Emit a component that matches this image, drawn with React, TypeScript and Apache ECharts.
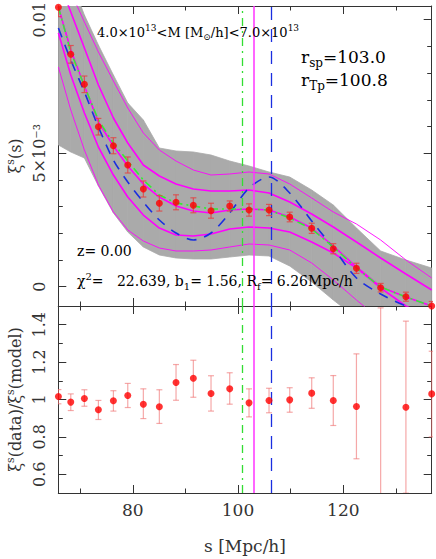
import React, { useEffect, useRef } from "react";
import * as echarts from "echarts";

// separation bins s [Mpc/h]
const sBins = [65.87, 68.22, 70.81, 73.47, 76.32, 79.05, 82.01, 85.05, 88.22, 91.51, 94.87, 98.42, 102.09, 105.89, 109.82, 114.0, 118.1, 122.5, 127.1, 131.9, 136.8];
// top panel values in units of 1e-3
const xiData = [10.464, 8.703, 7.58, 5.992, 5.28, 4.558, 3.659, 3.123, 3.161, 3.048, 2.846, 3.022, 2.872, 2.872, 2.61, 2.187, 1.423, 0.689, -0.037, -0.375, -0.723];
const xiErr = [0.35, 0.33, 0.31, 0.31, 0.3, 0.3, 0.3, 0.29, 0.28, 0.28, 0.28, 0.19, 0.23, 0.21, 0.18, 0.19, 0.19, 0.19, 0.16, 0.17, 0.17];
const modelCentre = [10.475, 8.864, 7.516, 6.168, 5.269, 4.52, 3.846, 3.359, 3.022, 2.835, 2.76, 2.872, 2.91, 2.872, 2.61, 2.198, 1.524, 0.738, -0.011, -0.386, -0.723];
const modelUp1 = [11.523, 10.288, 8.939, 7.554, 6.318, 5.382, 4.558, 4.146, 3.846, 3.659, 3.584, 3.584, 3.621, 3.509, 3.172, 2.723, 2.236, 1.674, 1.075, 0.476, -0.124];
const modelUp2 = [12.235, 11.037, 9.913, 8.79, 7.703, 6.692, 5.756, 5.119, 4.707, 4.37, 4.183, 4.221, 4.296, 4.221, 3.846, 3.322, 2.798, 2.348, 1.749, 1.0, 0.326];
const modelLow1 = [9.501, 7.928, 6.505, 5.232, 4.183, 3.359, 2.685, 2.198, 1.936, 1.899, 1.974, 2.161, 2.236, 2.198, 2.049, 1.674, 1.262, 0.7, -0.049, -0.723, -1.172];
const modelLow2 = [8.228, 6.617, 5.119, 3.809, 2.798, 2.123, 1.711, 1.449, 1.337, 1.337, 1.374, 1.487, 1.599, 1.562, 1.374, 0.888, 0.251, -0.498, -1.247, -1.809, -2.183];
const mockUpper = [12.984, 11.486, 10.175, 9.052, 7.928, 6.88, 6.243, 5.194, 5.082, 5.045, 4.932, 4.707, 4.52, 4.296, 4.108, 3.621, 3.06, 2.198, 1.337, 1.0, 0.7];
const mockLower = [5.307, 5.045, 4.82, 3.771, 2.76, 2.049, 1.487, 1.187, 1.075, 1.037, 1.037, 1.112, 1.187, 1.15, 0.775, 0.176, -0.498, -1.172, -1.622, -1.996, -2.183];
const fitModel = [10.475, 8.79, 7.516, 6.243, 5.382, 4.707, 3.996, 3.434, 3.134, 3.022, 2.91, 2.91, 2.91, 2.872, 2.573, 2.161, 1.487, 0.7, -0.011, -0.386, -0.723];
const linearModel = [9.688, 8.49, 7.292, 5.981, 4.745, 3.921, 3.172, 2.498, 2.011, 1.749, 2.011, 2.76, 3.696, 4.108, 3.509, 2.46, 1.449, 0.326, -0.273, -0.723, -1.097];
// bottom panel
const ratio = [1.016, 0.986, 1.005, 0.945, 0.993, 1.021, 0.975, 0.961, 1.091, 1.114, 1.032, 1.057, 0.982, 0.995, 0.998, 1.034, 0.995, 0.963, 0.3, 0.959, 1.03];
const ratioLow = [0.977, 0.941, 0.964, 0.893, 0.938, 0.957, 0.898, 0.872, 0.996, 1.012, 0.938, 0.975, 0.907, 0.929, 0.932, 0.953, 0.861, 0.683, -0.9, 0.499, 0.8];
const ratioHigh = [1.053, 1.03, 1.052, 0.995, 1.047, 1.086, 1.057, 1.052, 1.187, 1.21, 1.127, 1.143, 1.057, 1.06, 1.063, 1.116, 1.128, 1.244, 1.49, 1.419, 1.258];
// vertical markers
const rSp = 103.0;
const rTp = 100.8;
const rPeak = 106.4;
// ticks
const xMajor = [80, 100, 120];
const xMinor = [70, 90, 110, 130];
const yTopMajor = [0, 5, 10];
const yTopMinor = [1, 2, 3, 4, 6, 7, 8, 9];
const yBotMajor = [0.6, 0.8, 1.0, 1.2, 1.4];
const yBotMinor = [0.7, 0.9, 1.1, 1.3];

const FONT = "DejaVu Serif";
const AX = "#333";
const TXT = "#333";

export default function App() {
  const ref = useRef<HTMLDivElement>(null);
  useEffect(() => {
    document.body.style.margin = "0";
    const chart = echarts.init(ref.current!, null, { renderer: "svg" });
    const pair = (ys: number[]) => sBins.map((s, i) => [s, ys[i]]);
    const X_MIN = 65.85, X_MAX = 136.8;

    const xAxesFor = (gridIndex: number, labels: boolean) => {
      const base = {
        gridIndex, type: "value", min: X_MIN, max: X_MAX,
        splitLine: { show: false },
      };
      const tick = (vals: number[], len: number) => ({ show: true, inside: true, length: len, customValues: vals, lineStyle: { color: AX, width: 1 } });
      return [
        {
          ...base, position: "bottom",
          axisLine: { show: true, onZero: false, lineStyle: { color: AX, width: 1 } },
          axisTick: tick(xMajor, 8),
          axisLabel: { show: labels, customValues: xMajor, margin: 8, fontFamily: FONT, fontSize: 17, color: TXT },
          name: labels ? "s [Mpc/h]" : "", nameLocation: "middle", nameGap: 44,
          nameTextStyle: { fontFamily: FONT, fontSize: 17, color: TXT },
        },
        { ...base, position: "bottom", axisLine: { show: false, onZero: false }, axisTick: tick(xMinor, 4.5), axisLabel: { show: false } },
        { ...base, position: "top", axisLine: { show: true, onZero: false, lineStyle: { color: AX, width: 1 } }, axisTick: tick(xMajor, 8), axisLabel: { show: false } },
        { ...base, position: "top", axisLine: { show: false, onZero: false }, axisTick: tick(xMinor, 4.5), axisLabel: { show: false } },
      ];
    };
    const yAxesFor = (gridIndex: number, min: number, max: number, major: number[], minor: number[], fmt: (v: number) => string, name: string) => {
      const base = { gridIndex, type: "value", min, max, splitLine: { show: false } };
      const tick = (vals: number[], len: number) => ({ show: true, inside: true, length: len, customValues: vals, lineStyle: { color: AX, width: 1 } });
      return [
        {
          ...base, position: "left",
          axisLine: { show: true, onZero: false, lineStyle: { color: AX, width: 1 } },
          axisTick: tick(major, 8),
          axisLabel: { show: true, customValues: major, rotate: 90, margin: 11, fontFamily: FONT, fontSize: 16, color: TXT, formatter: fmt },
          name, nameLocation: "middle", nameGap: 32,
          nameTextStyle: {
            fontFamily: FONT, fontSize: 16, color: TXT,
            rich: {
              a: { fontFamily: FONT, fontSize: 16, color: TXT, lineHeight: 20 },
              sup: { fontFamily: FONT, fontSize: 11, color: TXT, verticalAlign: "top", lineHeight: 11 },
            },
          },
        },
        { ...base, position: "left", axisLine: { show: false, onZero: false }, axisTick: tick(minor, 4.5), axisLabel: { show: false } },
        { ...base, position: "right", axisLine: { show: true, onZero: false, lineStyle: { color: AX, width: 1 } }, axisTick: tick(major, 8), axisLabel: { show: false } },
        { ...base, position: "right", axisLine: { show: false, onZero: false }, axisTick: tick(minor, 4.5), axisLabel: { show: false } },
      ];
    };

    const topFmt = (v: number) => (Math.abs(v) < 1e-9 ? "0" : Math.abs(v - 5) < 1e-9 ? "5×10⁻³" : "0.01");
    const botFmt = (v: number) => (Math.abs(v - 1) < 1e-9 ? "1" : v.toFixed(1));

    const errBar = (color: string, cap: number) => (params: any, api: any) => {
      const x = api.value(0), lo = api.value(1), hi = api.value(2);
      const p1 = api.coord([x, lo]);
      const p2 = api.coord([x, hi]);
      const st = { stroke: color, lineWidth: 1.2 };
      return {
        type: "group",
        children: [
          { type: "line", shape: { x1: p1[0], y1: p1[1], x2: p2[0], y2: p2[1] }, style: st },
          { type: "line", shape: { x1: p1[0] - cap, y1: p1[1], x2: p1[0] + cap, y2: p1[1] }, style: st },
          { type: "line", shape: { x1: p2[0] - cap, y1: p2[1], x2: p2[0] + cap, y2: p2[1] }, style: st },
        ],
      };
    };

    const bandQuad = (params: any, api: any) => {
      const a = api.coord([api.value(0), api.value(1)]);
      const b = api.coord([api.value(0), api.value(2)]);
      const c = api.coord([api.value(3), api.value(5)]);
      const d = api.coord([api.value(3), api.value(4)]);
      return {
        type: "polygon",
        shape: { points: [a, b, c, d] },
        style: { fill: "#aaaaaa", stroke: "#aaaaaa", lineWidth: 0.8 },
      };
    };

    const vLines = {
      silent: true, symbol: ["none", "none"], label: { show: false },
      data: [
        { xAxis: rTp, lineStyle: { color: "#33dd33", width: 1.3, type: [8, 5, 2, 5] } },
        { xAxis: rSp, lineStyle: { color: "#ff33ff", width: 1.5, type: "solid" } },
        { xAxis: rPeak, lineStyle: { color: "#1a2ee0", width: 1.3, type: [13, 9] } },
      ],
    };

    const magenta = (data: number[], w: number, z: number) => ({
      type: "line", xAxisIndex: 0, yAxisIndex: 0, data: pair(data), symbol: "none",
      lineStyle: { color: "#ff00ff", width: w }, z, silent: true,
    });

    const rich = {
      a: { fontFamily: FONT, fontSize: 17, color: TXT, lineHeight: 24 },
      sub: { fontFamily: FONT, fontSize: 12, color: TXT, lineHeight: 12, verticalAlign: "bottom" },
      m: { fontFamily: FONT, fontSize: 13, color: TXT, lineHeight: 18 },
      msup: { fontFamily: FONT, fontSize: 9, color: TXT, lineHeight: 9, verticalAlign: "top" },
      msub: { fontFamily: FONT, fontSize: 9, color: TXT, lineHeight: 9, verticalAlign: "bottom" },
      c: { fontFamily: FONT, fontSize: 14, color: TXT, lineHeight: 20 },
      csup: { fontFamily: FONT, fontSize: 10, color: TXT, lineHeight: 10, verticalAlign: "top" },
      csub: { fontFamily: FONT, fontSize: 10, color: TXT, lineHeight: 10, verticalAlign: "bottom" },
    };

    const bandData = sBins.slice(0, -1).map((s, i) => [s, mockLower[i], mockUpper[i], sBins[i + 1], mockLower[i + 1], mockUpper[i + 1]]);

    chart.setOption({
      animation: false,
      backgroundColor: "#fff",
      grid: [
        { left: 58.3, right: 4.3, top: 6, height: 300, outerBoundsMode: "none", containLabel: false },
        { left: 58.3, right: 4.3, top: 306, height: 187, outerBoundsMode: "none", containLabel: false },
      ],
      xAxis: [...xAxesFor(0, false), ...xAxesFor(1, true)],
      yAxis: [
        ...yAxesFor(0, -0.723, 10.513, yTopMajor, yTopMinor, topFmt, "{a|ξ}{sup|s}{a|(s)}"),
        ...yAxesFor(1, 0.5, 1.5, yBotMajor, yBotMinor, botFmt, "{a|ξ}{sup|s}{a|(data)/ξ}{sup|s}{a|(model)}"),
      ],
      graphic: [
        { type: "text", x: 97, y: 32, z: 50, style: { text: "{m|4.0×10}{msup|13}{m|<M [M}{msub|⊙}{m|/h]<7.0×10}{msup|13}", rich, verticalAlign: "middle", align: "left" } },
        { type: "text", x: 301, y: 57, z: 50, style: { text: "{a|r}{sub|sp}{a|=103.0}", rich, verticalAlign: "middle", align: "left" } },
        { type: "text", x: 301, y: 80, z: 50, style: { text: "{a|r}{sub|Tp}{a|=100.8}", rich, verticalAlign: "middle", align: "left" } },
        { type: "text", x: 77, y: 251, z: 50, style: { text: "{c|z= 0.00}", rich, verticalAlign: "middle", align: "left" } },
        { type: "text", x: 77, y: 281, z: 50, style: { text: "{c|χ}{csup|2}{c|=   22.639, b}{csub|1}{c|= 1.56, R}{csub|f}{c|= 6.26Mpc/h}", rich, verticalAlign: "middle", align: "left" } },
      ],
      series: [
        {
          type: "custom", xAxisIndex: 0, yAxisIndex: 0, clip: true, z: 1, silent: true,
          data: bandData, encode: { x: [0, 3], y: [1, 2, 4, 5] },
          renderItem: bandQuad,
        },
        magenta(modelUp2, 0.9, 2),
        magenta(modelLow2, 0.9, 2),
        magenta(modelUp1, 1.6, 2),
        magenta(modelLow1, 1.6, 2),
        magenta(modelCentre, 1.6, 2),
        {
          type: "line", xAxisIndex: 0, yAxisIndex: 0, data: pair(linearModel), symbol: "none", smooth: 0.3,
          lineStyle: { color: "#1a2ee0", width: 1.6, type: [10, 8] }, z: 3, silent: true,
        },
        {
          type: "line", xAxisIndex: 0, yAxisIndex: 0, data: pair(fitModel), symbol: "none",
          lineStyle: { color: "#33ee33", width: 1.6, type: [8, 4, 2, 4] }, z: 4, silent: true,
        },
        {
          type: "custom", xAxisIndex: 0, yAxisIndex: 0, clip: true, z: 5, silent: true,
          data: sBins.map((s, i) => [s, xiData[i] - xiErr[i], xiData[i] + xiErr[i]]),
          encode: { x: 0, y: [1, 2] },
          renderItem: errBar("rgba(225,70,70,0.85)", 3),
        },
        {
          type: "scatter", xAxisIndex: 0, yAxisIndex: 0, data: pair(xiData), symbolSize: 7,
          itemStyle: { color: "#ff0000" }, z: 6, clip: true, silent: true,
          markLine: vLines,
        },
        {
          type: "custom", xAxisIndex: 4, yAxisIndex: 4, clip: true, z: 5, silent: true,
          data: sBins.map((s, i) => [s, ratioLow[i], ratioHigh[i]]),
          encode: { x: 0, y: [1, 2] },
          renderItem: errBar("rgba(238,110,110,0.6)", 3),
        },
        {
          type: "scatter", xAxisIndex: 4, yAxisIndex: 4, data: pair(ratio), symbolSize: 7,
          itemStyle: { color: "#ff0000" }, z: 6, clip: true, silent: true,
          markLine: vLines,
        },
      ],
    });
    return () => chart.dispose();
  }, []);
  return <div ref={ref} style={{ width: 436, height: 559 }} />;
}
